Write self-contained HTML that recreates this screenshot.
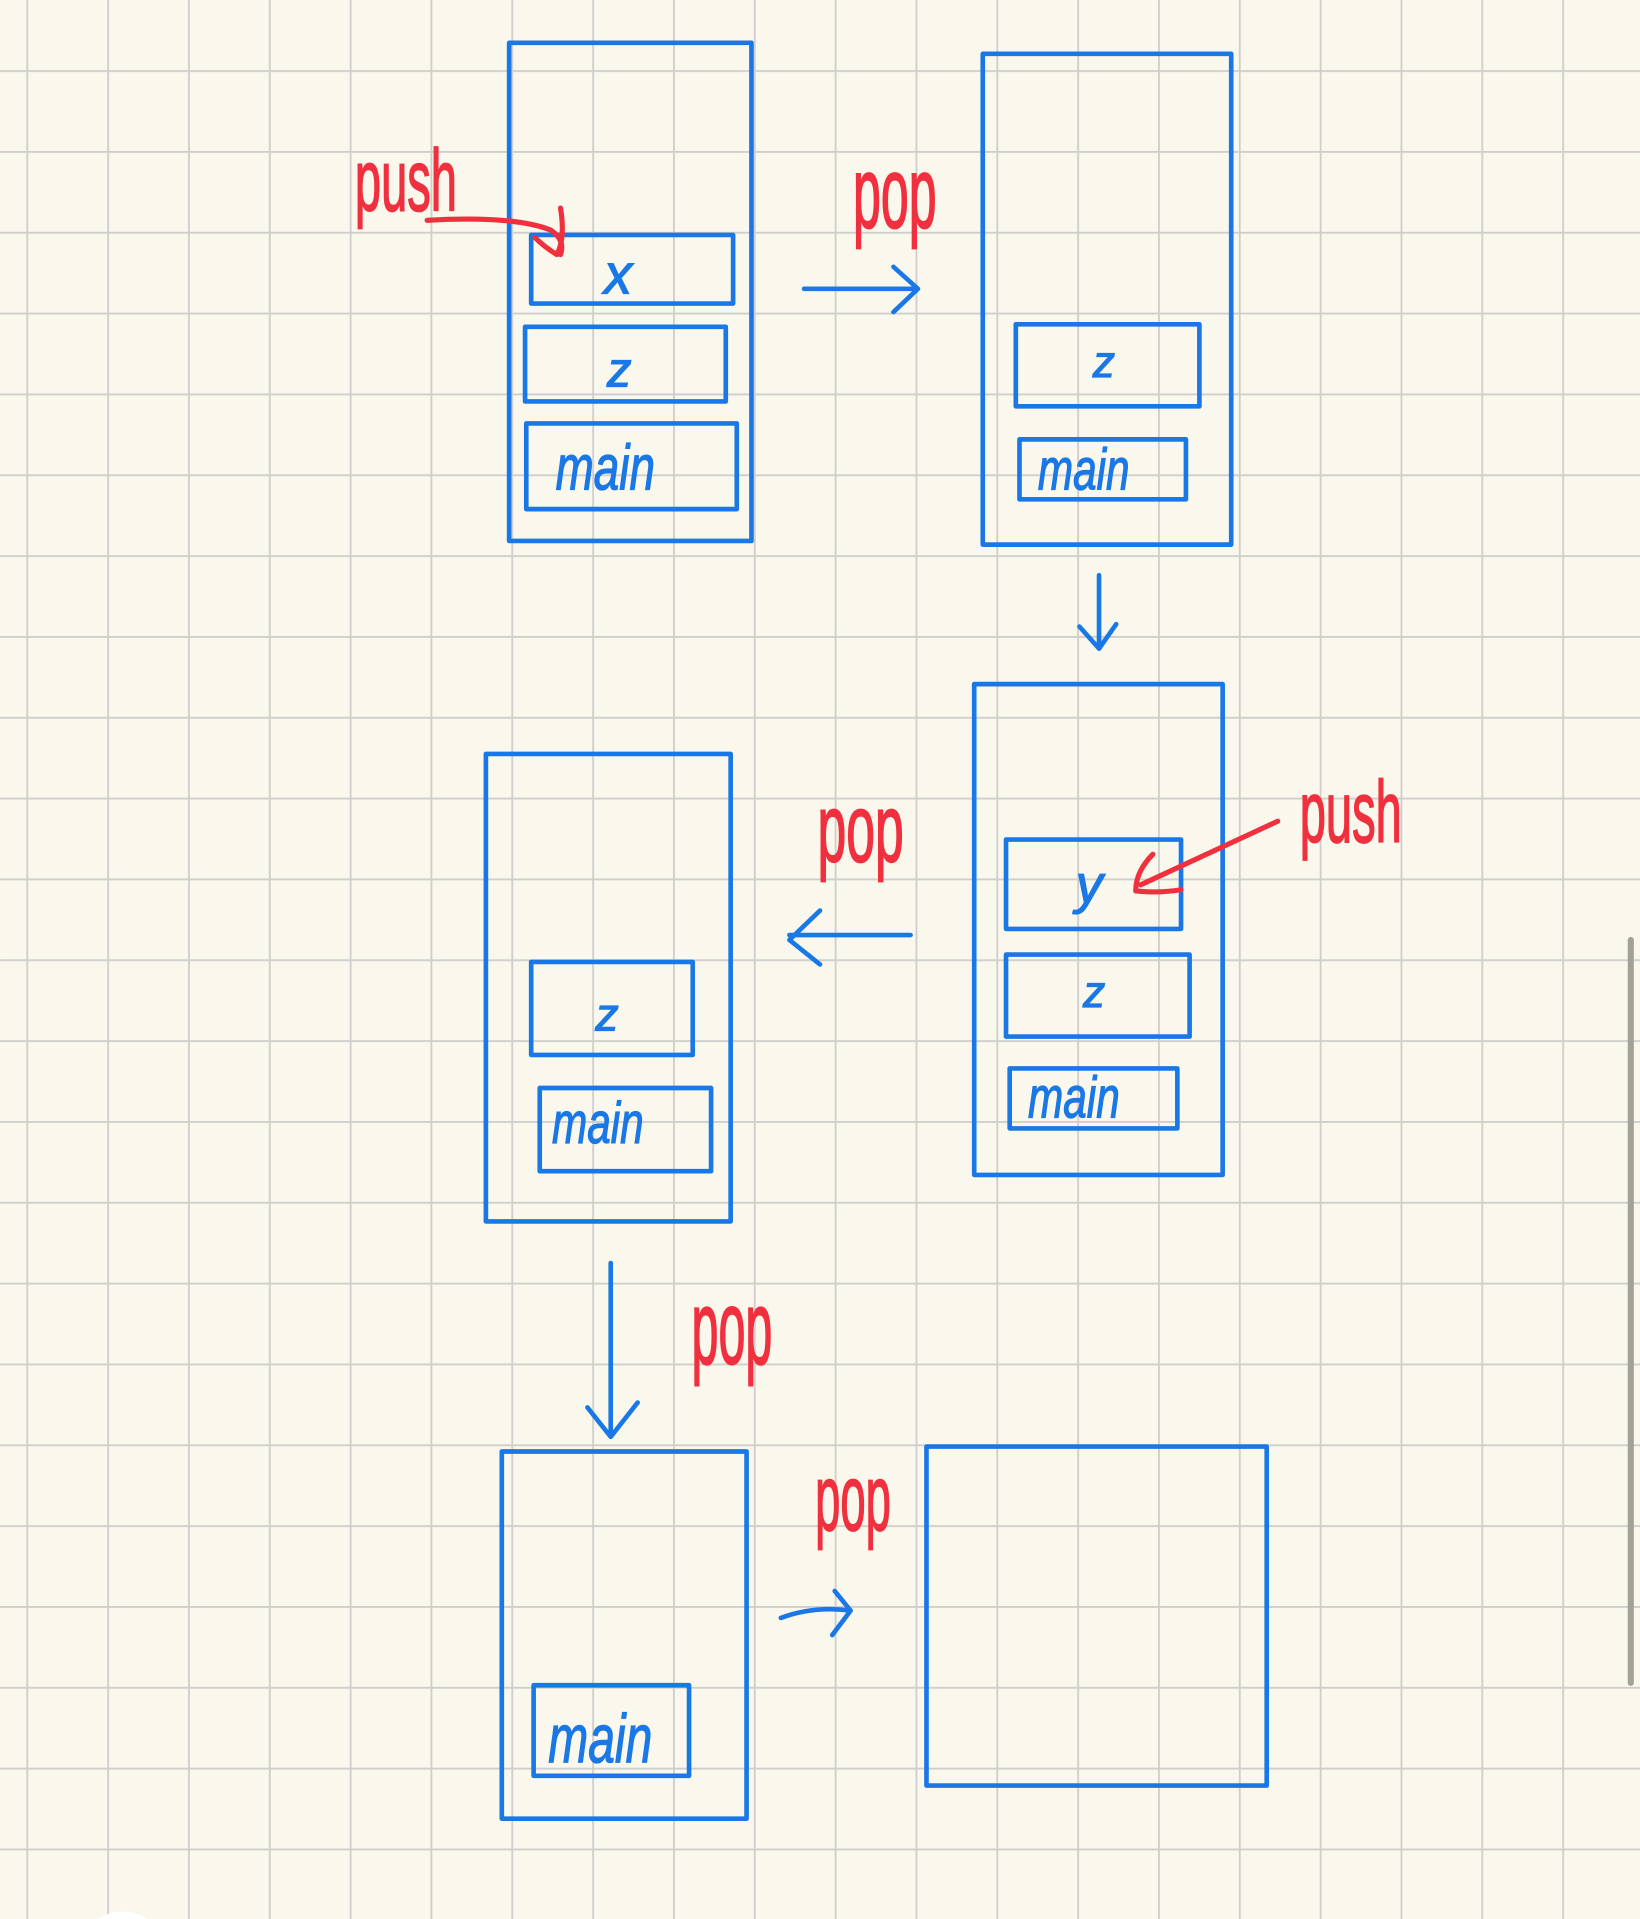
<!DOCTYPE html>
<html><head><meta charset="utf-8"><style>
html,body{margin:0;padding:0;background:#faf8ec;}
svg{display:block}
.b{fill:none;stroke:#1a78e6;stroke-width:3.8;stroke-linecap:round;stroke-linejoin:round}
.r{fill:none;stroke:#f0303f;stroke-width:4.2;stroke-linecap:round;stroke-linejoin:round}
.tb{fill:#1a78e6;font-family:"Liberation Sans",sans-serif;font-style:italic;stroke:#1a78e6;stroke-width:1}
.tr{fill:#f0303f;font-family:"Liberation Sans",sans-serif;stroke:#f0303f;stroke-width:1.2}
</style></head><body>
<svg width="1640" height="1919" viewBox="0 0 1340 1568" xmlns="http://www.w3.org/2000/svg">
<defs>
<pattern id="g" x="21.5" y="57.3" width="66.05" height="66.05" patternUnits="userSpaceOnUse">
<path d="M0 0V66.05M0 0H66.05" stroke="#cfcecc" stroke-width="3" fill="none"/>
</pattern>
</defs>
<rect width="1340" height="1568" fill="#faf8ec"/>
<rect width="1340" height="1568" fill="url(#g)"/>
<line x1="1332.5" y1="768" x2="1332.5" y2="1375" stroke="#a3a297" stroke-width="5" stroke-linecap="round"/>
<circle cx="100" cy="1600" r="38" fill="#ffffff"/>

<!-- A -->
<rect class="b" x="416" y="35" width="198" height="407"/>
<rect class="b" x="434" y="192" width="165" height="56"/>
<rect class="b" x="429" y="267" width="164" height="61"/>
<rect class="b" x="430" y="346" width="172" height="70"/>
<text class="tb" x="505" y="240" font-size="46" text-anchor="middle">x</text>
<text class="tb" x="506" y="316" font-size="40" text-anchor="middle">z</text>
<text class="tb" transform="translate(454,400) scale(0.72,1)" font-size="52">main</text>

<!-- B -->
<rect class="b" x="803" y="44" width="203" height="401"/>
<rect class="b" x="830" y="265" width="150" height="67"/>
<rect class="b" x="833" y="359" width="136" height="49"/>
<text class="tb" x="902" y="308" font-size="36" text-anchor="middle">z</text>
<text class="tb" transform="translate(848,400) scale(0.72,1)" font-size="48">main</text>

<!-- C -->
<rect class="b" x="796" y="559" width="203" height="401"/>
<rect class="b" x="822" y="686" width="143" height="73"/>
<rect class="b" x="822" y="780" width="150" height="67"/>
<rect class="b" x="825" y="873" width="137" height="49"/>
<text class="tb" x="890" y="738" font-size="44" text-anchor="middle">y</text>
<text class="tb" x="894" y="823" font-size="36" text-anchor="middle">z</text>
<text class="tb" transform="translate(840,913) scale(0.72,1)" font-size="48">main</text>

<!-- D -->
<rect class="b" x="397" y="616" width="200" height="382"/>
<rect class="b" x="434" y="786" width="132" height="76"/>
<rect class="b" x="441" y="889" width="140" height="68"/>
<text class="tb" x="496" y="842" font-size="38" text-anchor="middle">z</text>
<text class="tb" transform="translate(451,934) scale(0.72,1)" font-size="48">main</text>

<!-- E -->
<rect class="b" x="410" y="1186" width="200" height="300"/>
<rect class="b" x="436" y="1377" width="127" height="74"/>
<text class="tb" transform="translate(448,1440) scale(0.7,1)" font-size="56">main</text>

<!-- F -->
<rect class="b" x="757" y="1182" width="278" height="277"/>

<!-- blue arrows -->
<path class="b" d="M657 236H750M730 218L750 236L730 255"/>
<path class="b" d="M898 470V530M882 512L898 530L912 510"/>
<path class="b" d="M744 764H645M670 744L645 768L670 788"/>
<path class="b" d="M499 1032V1172M480 1150L499 1174L521 1146"/>
<path class="b" d="M638 1322Q665 1312 695 1316M682 1300L695 1316L680 1336"/>

<!-- red arrows -->
<path class="r" d="M349 180Q420 176 450 188Q462 196 458 208M458 170Q462 195 455 208Q445 202 437 194"/>
<path class="r" d="M1044 671L932 723M942 698Q928 712 928 728Q946 730 965 727"/>

<!-- red labels -->
<text class="tr" transform="translate(290,172) scale(0.62,1.15)" font-size="62">push</text>
<text class="tr" transform="translate(697,186) scale(0.62,1.25)" font-size="66">pop</text>
<text class="tr" transform="translate(668,704) scale(0.64,1.2)" font-size="66">pop</text>
<text class="tr" transform="translate(1062,688) scale(0.62,1.15)" font-size="62">push</text>
<text class="tr" transform="translate(565,1114) scale(0.6,1.3)" font-size="66">pop</text>
<text class="tr" transform="translate(666,1250) scale(0.58,1.2)" font-size="64">pop</text>
</svg>
</body></html>
